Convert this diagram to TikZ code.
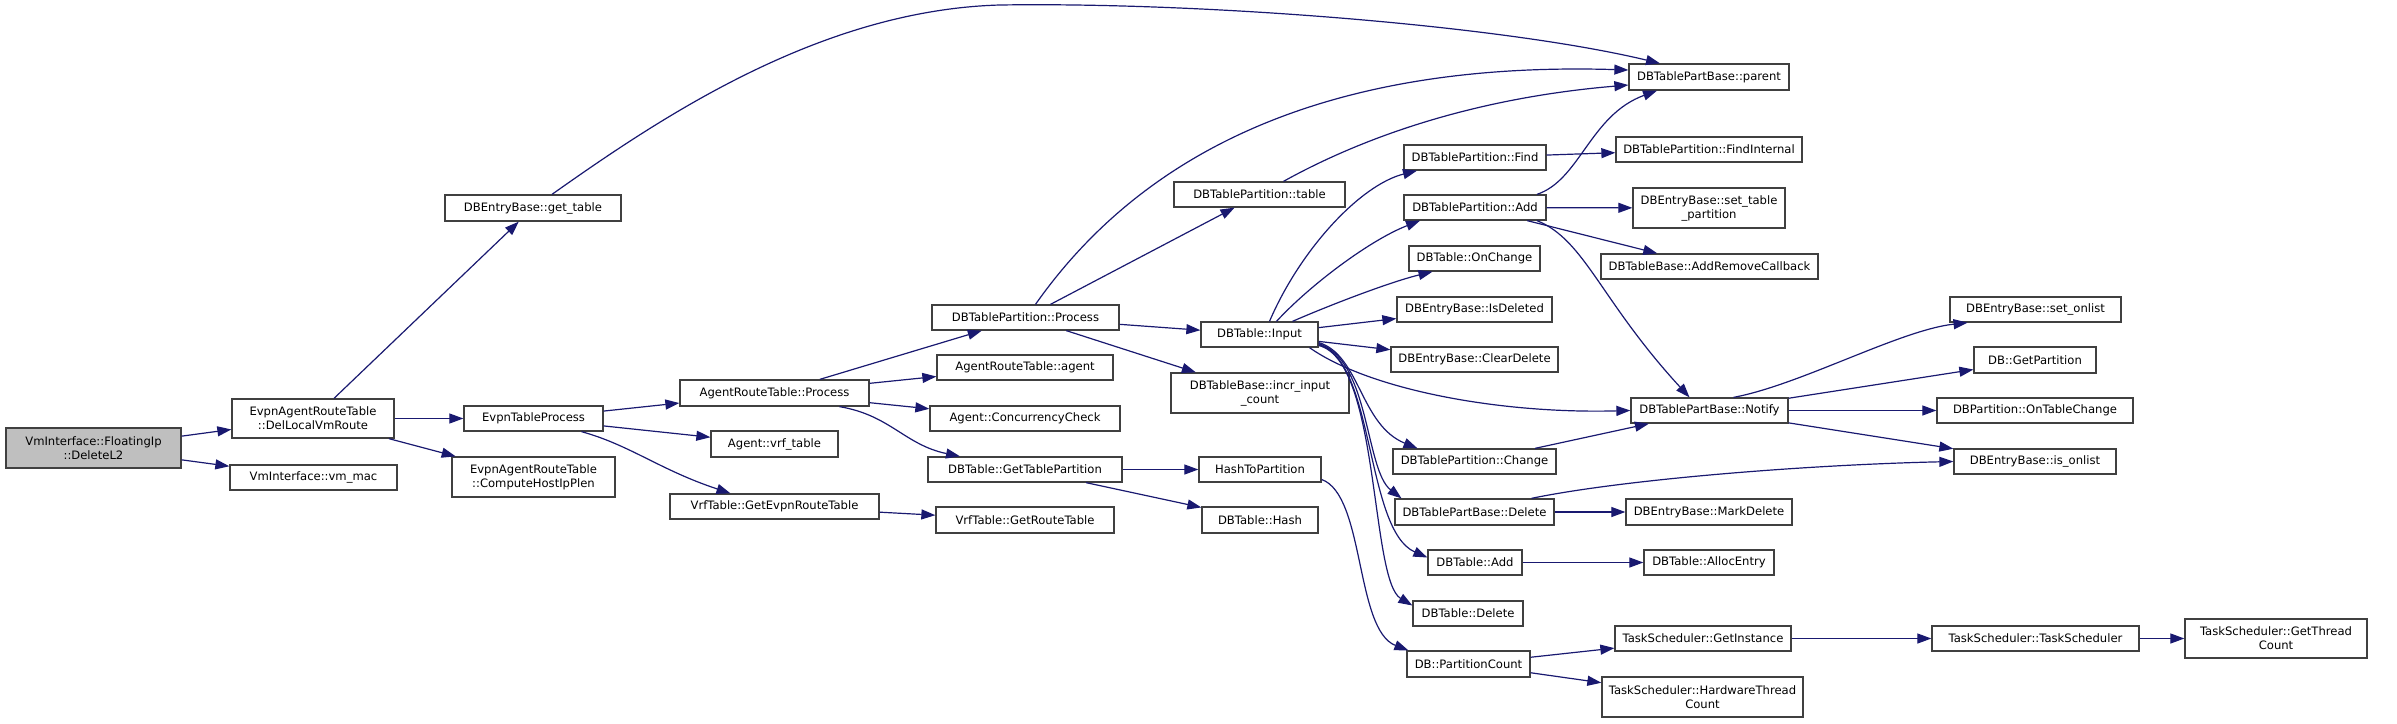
\documentclass[tikz,border=0pt]{standalone}
\usepackage{fontspec}
\setmainfont{DejaVu Sans}
\usetikzlibrary{arrows.meta}
\definecolor{edgeblue}{HTML}{191970}
\definecolor{boxline}{HTML}{404040}
\definecolor{rootgray}{HTML}{BFBFBF}
\tikzset{
  fn/.style={draw=boxline, line width=1.3pt, fill=white, inner sep=0pt,
    minimum height=25pt, align=center, font=\fontsize{11.6}{14}\selectfont},
  fntwo/.style={fn, minimum height=40pt},
  call/.style={draw=edgeblue, line width=1.2pt, -{Triangle[length=14pt,width=10pt]}}
}
\begin{document}
\begin{tikzpicture}[x=1pt, y=-1pt]
  \useasboundingbox (0,0) rectangle (2397,723);

  \node[fntwo, fill=rootgray, minimum width=175] (root) at (93.5,448) {VmInterface::FloatingIp\\::DeleteL2};
  \node[fntwo, minimum width=162, minimum height=39] (dellocal) at (313,418.5) {EvpnAgentRouteTable\\::DelLocalVmRoute};
  \node[fn, minimum width=167] (vmmac) at (313.5,477.5) {VmInterface::vm\_mac};
  \node[fn, minimum width=176, minimum height=26] (gettable) at (533,208) {DBEntryBase::get\_table};
  \node[fn, minimum width=139] (evpnproc) at (533.5,418.5) {EvpnTableProcess};
  \node[fntwo, minimum width=163] (hostip) at (533.5,477) {EvpnAgentRouteTable\\::ComputeHostIpPlen};
  \node[fn, minimum width=189, minimum height=26] (artproc) at (774.5,393) {AgentRouteTable::Process};
  \node[fn, minimum width=127, minimum height=26] (vrftable) at (774.5,444) {Agent::vrf\_table};
  \node[fn, minimum width=209] (getevpn) at (774.5,506.5) {VrfTable::GetEvpnRouteTable};
  \node[fn, minimum width=187] (dbtpproc) at (1025.5,317.5) {DBTablePartition::Process};
  \node[fn, minimum width=176] (artagent) at (1025,367.5) {AgentRouteTable::agent};
  \node[fn, minimum width=190] (concheck) at (1025,418.5) {Agent::ConcurrencyCheck};
  \node[fn, minimum width=194] (gettp) at (1025,469.5) {DBTable::GetTablePartition};
  \node[fn, minimum width=178, minimum height=26] (getroute) at (1025,520) {VrfTable::GetRouteTable};
  \node[fn, minimum width=171] (tptable) at (1259.5,194.5) {DBTablePartition::table};
  \node[fn, minimum width=117] (input) at (1259.5,334.5) {DBTable::Input};
  \node[fntwo, minimum width=178] (incr) at (1260,393) {DBTableBase::incr\_input\\\_count};
  \node[fn, minimum width=122] (h2p) at (1260,469.5) {HashToPartition};
  \node[fn, minimum width=116, minimum height=26] (hash) at (1260,520) {DBTable::Hash};
  \node[fn, minimum width=142] (find) at (1475,157.5) {DBTablePartition::Find};
  \node[fn, minimum width=142] (tpadd) at (1475,207.5) {DBTablePartition::Add};
  \node[fn, minimum width=131] (onchange) at (1474.5,258.5) {DBTable::OnChange};
  \node[fn, minimum width=155] (isdel) at (1474.5,309.5) {DBEntryBase::IsDeleted};
  \node[fn, minimum width=167] (cleardel) at (1474.5,359.5) {DBEntryBase::ClearDelete};
  \node[fn, minimum width=163] (change) at (1474.5,461.5) {DBTablePartition::Change};
  \node[fn, minimum width=159, minimum height=26] (pbdelete) at (1474.5,512) {DBTablePartBase::Delete};
  \node[fn, minimum width=94] (tadd) at (1475,562.5) {DBTable::Add};
  \node[fn, minimum width=110] (tdelete) at (1468,613.5) {DBTable::Delete};
  \node[fn, minimum width=123, minimum height=26] (pcount) at (1468.5,664) {DB::PartitionCount};
  \node[fn, minimum width=160, minimum height=26] (parent) at (1709,77) {DBTablePartBase::parent};
  \node[fn, minimum width=186] (findint) at (1709,149.5) {DBTablePartition::FindInternal};
  \node[fntwo, minimum width=152] (settp) at (1709,208) {DBEntryBase::set\_table\\\_partition};
  \node[fn, minimum width=217] (addrem) at (1709.5,266.5) {DBTableBase::AddRemoveCallback};
  \node[fn, minimum width=157] (notify) at (1709.5,410.5) {DBTablePartBase::Notify};
  \node[fn, minimum width=166, minimum height=26] (markdel) at (1709,512) {DBEntryBase::MarkDelete};
  \node[fn, minimum width=130] (alloc) at (1709,562.5) {DBTable::AllocEntry};
  \node[fn, minimum width=176] (getinst) at (1703,638.5) {TaskScheduler::GetInstance};
  \node[fntwo, minimum width=201] (hwthread) at (1702.5,697) {TaskScheduler::HardwareThread\\Count};
  \node[fn, minimum width=171] (setonlist) at (2035.5,309.5) {DBEntryBase::set\_onlist};
  \node[fn, minimum width=122, minimum height=26] (getpart) at (2035,360) {DB::GetPartition};
  \node[fn, minimum width=196] (ontc) at (2035,410.5) {DBPartition::OnTableChange};
  \node[fn, minimum width=162] (isonlist) at (2035,461.5) {DBEntryBase::is\_onlist};
  \node[fn, minimum width=207] (tsched) at (2035.5,638.5) {TaskScheduler::TaskScheduler};
  \node[fntwo, minimum width=182, minimum height=39] (getthread) at (2276,638.5) {TaskScheduler::GetThread\\Count};

  \draw[call] (root) -- (dellocal);
  \draw[call] (root) -- (vmmac);
  \draw[call] (dellocal) -- (gettable);
  \draw[call] (dellocal) -- (evpnproc);
  \draw[call] (dellocal) -- (hostip);
  \draw[call] ([xshift=19pt]gettable.north) .. controls (660,118) and (820,10) .. (1000,5)
                                           .. controls (1200,2) and (1500,25) .. ([xshift=-49pt]parent.north);
  \draw[call] (evpnproc) -- (artproc);
  \draw[call] (evpnproc) -- (vrftable);
  \draw[call] ([xshift=48pt]evpnproc.south) .. controls (630,445) and (660,470) .. ([xshift=-44pt]getevpn.north);
  \draw[call] (getevpn) -- (getroute);
  \draw[call] (artproc) -- (dbtpproc);
  \draw[call] (artproc) -- (artagent);
  \draw[call] (artproc) -- (concheck);
  \draw[call] ([xshift=65pt]artproc.south) .. controls (890,415) and (905,445) .. ([xshift=-65pt]gettp.north);
  \draw[call] ([xshift=10pt]dbtpproc.north) .. controls (1130,170) and (1300,60) .. ([yshift=7pt]parent.west);
  \draw[call] (dbtpproc) -- (tptable);
  \draw[call] (dbtpproc) -- (input);
  \draw[call] (dbtpproc) -- (incr);
  \draw[call] (gettp) -- (h2p);
  \draw[call] (gettp) -- (hash);
  \draw[call] ([xshift=24pt]tptable.north) .. controls (1340,150) and (1450,100) .. ([yshift=-8pt]parent.west);
  \draw[call] ([xshift=10pt]input.north) .. controls (1300,250) and (1360,185) .. ([xshift=-58pt]find.south);
  \draw[call] ([xshift=17pt]input.north) .. controls (1310,285) and (1370,240) .. ([xshift=-55pt]tpadd.south);
  \draw[call] ([xshift=33pt]input.north) .. controls (1330,305) and (1390,282) .. ([xshift=-42pt]onchange.south);
  \draw[call] (input) -- (isdel);
  \draw[call] (input) -- (cleardel);
  \draw[call] ([xshift=50pt]input.south) .. controls (1370,390) and (1500,414) .. (notify.west);
  \draw[call] ([yshift=-8pt]input.east) .. controls (1360,355) and (1360,425) .. ([xshift=-57pt]change.north);
  \draw[call] ([yshift=-9pt]input.east) .. controls (1370,360) and (1365,470) .. ([xshift=-73pt]pbdelete.north);
  \draw[call] ([yshift=-10pt]input.east) .. controls (1375,360) and (1365,530) .. ([yshift=5pt]tadd.west);
  \draw[call] ([yshift=-11pt]input.east) .. controls (1380,360) and (1370,580) .. ([yshift=8pt]tdelete.west);
  \draw[call] ([yshift=-10pt]h2p.east) .. controls (1365,495) and (1355,630) .. ([xshift=2pt]pcount.north west);
  \draw[call] (find) -- (findint);
  \draw[call] ([xshift=62pt]tpadd.north) .. controls (1580,180) and (1590,115) .. ([xshift=-52pt]parent.south);
  \draw[call] (tpadd) -- (settp);
  \draw[call] (tpadd) -- (addrem);
  \draw[call] ([xshift=62pt]tpadd.south) .. controls (1585,240) and (1600,300) .. ([xshift=-20pt]notify.north);
  \draw[call] (change) -- (notify);
  \draw[call] ([xshift=57pt]pbdelete.north) .. controls (1620,480) and (1800,465) .. (isonlist.west);
  \draw[call] (pbdelete) -- (markdel);
  \draw[call] (tadd) -- (alloc);
  \draw[call] (pcount) -- (getinst);
  \draw[call] (pcount) -- (hwthread);
  \draw[call] (getinst) -- (tsched);
  \draw[call] (tsched) -- (getthread);
  \draw[call] ([xshift=24pt]notify.north) .. controls (1800,385) and (1900,330) .. ([xshift=-68pt]setonlist.south);
  \draw[call] (notify) -- (getpart);
  \draw[call] (notify) -- (ontc);
  \draw[call] (notify) -- (isonlist);
\end{tikzpicture}
\end{document}
